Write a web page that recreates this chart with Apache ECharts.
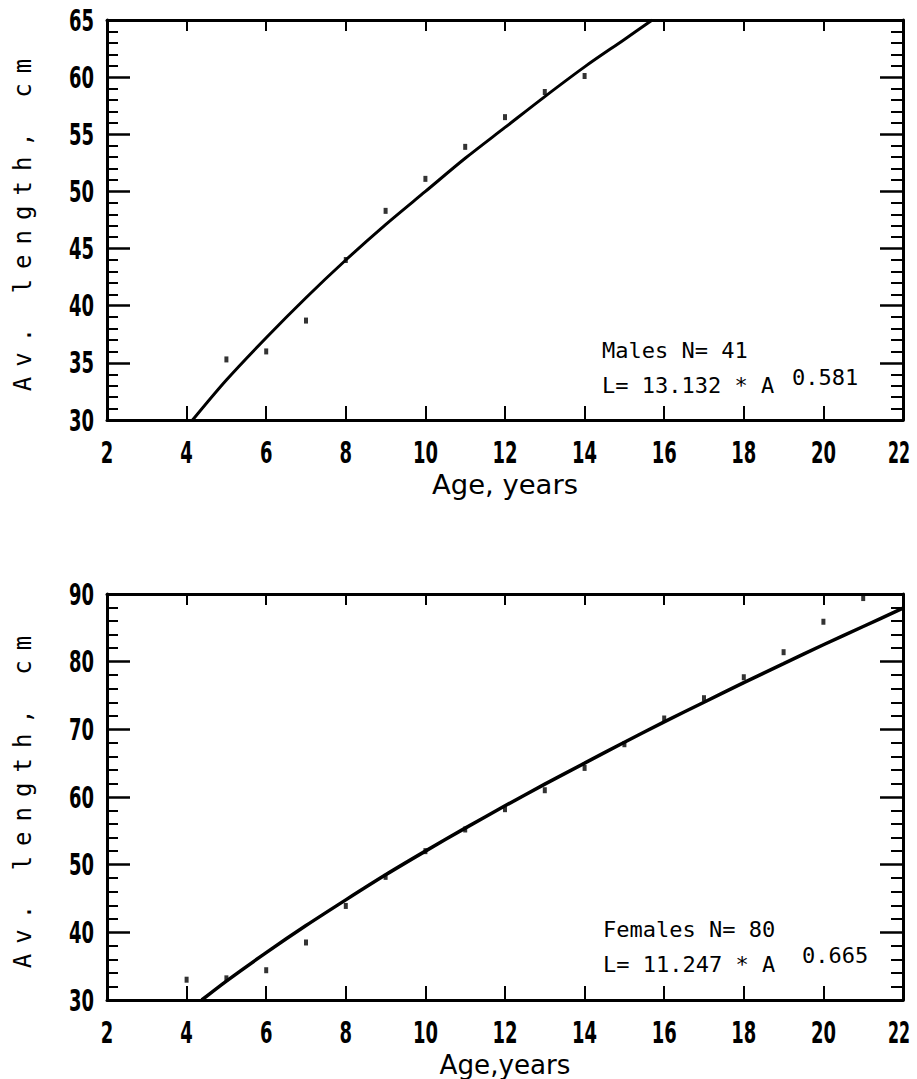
<!DOCTYPE html>
<html><head><meta charset="utf-8">
<script src="https://cdn.jsdelivr.net/npm/echarts@6/dist/echarts.min.js"></script>
<style>html,body{margin:0;padding:0;background:#fff}#c{width:917px;height:1079px}</style>
</head><body><div id="c"></div>
<script>
// Males (top panel)
const maleAges = [5, 6, 7, 8, 9, 10, 11, 12, 13, 14];
const maleLengths = [35.3, 36.0, 38.7, 44.0, 48.3, 51.1, 53.9, 56.5, 58.7, 60.1];
const maleCurveAges = [4.15, 5, 6, 7, 8, 9, 10, 11, 12, 13, 14, 15, 15.7];
const maleCurveLengths = [30, 33.5, 37.2, 40.7, 44.0, 47.1, 50.0, 52.9, 55.6, 58.3, 60.9, 63.3, 65];
// Females (bottom panel)
const femaleAges = [4, 5, 6, 7, 8, 9, 10, 11, 12, 13, 14, 15, 16, 17, 18, 19, 20, 21];
const femaleLengths = [33.0, 33.2, 34.4, 38.5, 43.9, 48.2, 52.0, 55.2, 58.2, 61.0, 64.3, 67.8, 71.6, 74.6, 77.7, 81.4, 85.9, 89.4];
const femaleCurveAges = [4.38, 5, 6, 7, 8, 9, 10, 11, 12, 13, 14, 15, 16, 17, 18, 19, 20, 21, 22];
const femaleCurveLengths = [30, 32.8, 37.0, 41.0, 44.8, 48.5, 52.0, 55.4, 58.7, 61.9, 65.0, 68.1, 71.1, 74.0, 76.9, 79.7, 82.5, 85.2, 87.9];
// Axis ranges / labels
const ageRange = [2, 22, 2];
const maleLenRange = [30, 65, 5];
const femaleLenRange = [30, 90, 10];
const yTitle = 'Av. length, cm';
const xTitleTop = 'Age, years';
const xTitleBottom = 'Age,years';
const maleNote = 'Males N= 41';
const maleEq = 'L= 13.132 * A';
const maleExp = '0.581';
const femaleNote = 'Females N= 80';
const femaleEq = 'L= 11.247 * A';
const femaleExp = '0.665';

const pair = (a, b) => a.map((v, i) => [v, b[i]]);
const numFont = "'DejaVu Sans', sans-serif";
const monoFont = "'DejaVu Sans Mono', monospace";
const black = '#000';

function xAxes(grid, title) {
  return [
    { type: 'value', gridIndex: grid, position: 'bottom', min: ageRange[0], max: ageRange[1], interval: ageRange[2],
      axisLine: { lineStyle: { color: black, width: 3 } },
      axisTick: { inside: true, length: 14, lineStyle: { color: black, width: 2 } },
      axisLabel: { color: black, fontSize: 30, fontWeight: 'bold', fontFamily: numFont, margin: 17,
                   alignMaxLabel: 'right' },
      splitLine: { show: false },
      name: title, nameLocation: 'middle', nameGap: 52,
      nameTextStyle: { color: black, fontSize: 26, fontFamily: numFont } },
    { type: 'value', gridIndex: grid, position: 'top', min: ageRange[0], max: ageRange[1], interval: ageRange[2],
      axisLine: { lineStyle: { color: black, width: 3 } },
      axisTick: { inside: true, length: 11, lineStyle: { color: black, width: 2 } },
      axisLabel: { show: false }, splitLine: { show: false } }
  ];
}
function yAxes(grid, r) {
  return [
    { type: 'value', gridIndex: grid, position: 'left', min: r[0], max: r[1], interval: r[2],
      axisLine: { lineStyle: { color: black, width: 3 } },
      axisTick: { inside: true, length: 23, lineStyle: { color: black, width: 2.5 } },
      minorTick: { show: true, splitNumber: 5, length: 11, lineStyle: { color: black, width: 2 } },
      axisLabel: { color: black, fontSize: 30, fontWeight: 'bold', fontFamily: numFont, margin: 13 },
      splitLine: { show: false }, minorSplitLine: { show: false },
      name: yTitle, nameLocation: 'middle', nameRotate: 90, nameGap: 72,
      nameTextStyle: { color: black, fontSize: 24, fontFamily: monoFont } },
    { type: 'value', gridIndex: grid, position: 'right', min: r[0], max: r[1], interval: r[2],
      axisLine: { lineStyle: { color: black, width: 3 } },
      axisTick: { inside: true, length: 23, lineStyle: { color: black, width: 2.5 } },
      minorTick: { show: true, splitNumber: 5, length: 12, lineStyle: { color: black, width: 2 } },
      axisLabel: { show: false }, splitLine: { show: false } }
  ];
}
function txt(x, y, s) {
  return { type: 'text', left: x, top: y, style: { text: s, font: '22px ' + monoFont, fill: black } };
}

const chart = echarts.init(document.getElementById('c'), null, { renderer: 'svg' });
chart.setOption({
  backgroundColor: '#fff',
  animation: false,
  grid: [
    { left: 107, right: 14, top: 20, height: 400 },
    { left: 107, right: 14, top: 594, height: 407 }
  ],
  xAxis: [...xAxes(0, xTitleTop), ...xAxes(1, xTitleBottom)],
  yAxis: [...yAxes(0, maleLenRange), ...yAxes(1, femaleLenRange)],
  series: [
    { type: 'line', xAxisIndex: 0, yAxisIndex: 0, data: pair(maleCurveAges, maleCurveLengths), smooth: 0.3,
      showSymbol: false, lineStyle: { color: black, width: 3 } },
    { type: 'scatter', xAxisIndex: 0, yAxisIndex: 0, data: pair(maleAges, maleLengths), symbol: 'rect',
      symbolSize: [4, 6], itemStyle: { color: black } },
    { type: 'line', xAxisIndex: 2, yAxisIndex: 2, data: pair(femaleCurveAges, femaleCurveLengths), smooth: 0.3,
      showSymbol: false, lineStyle: { color: black, width: 3.5 } },
    { type: 'scatter', xAxisIndex: 2, yAxisIndex: 2, data: pair(femaleAges, femaleLengths), symbol: 'rect',
      symbolSize: [4, 6], itemStyle: { color: black } }
  ],
  graphic: [
    txt(602, 339, maleNote), txt(602, 374, maleEq), txt(792, 366, maleExp),
    txt(603, 918, femaleNote), txt(603, 953, femaleEq), txt(802, 944, femaleExp)
  ]
});
// The original uses a narrow plotter font and a widely spaced monospaced axis title:
// emulate with SVG text condensing / letter spacing.
document.querySelectorAll('#c text').forEach(t => {
  const s = t.textContent;
  if (s === yTitle) {
    t.style.letterSpacing = '10px';
  } else if (/^\d+$/.test(s)) {
    const isMax = s === String(ageRange[1]);
    const w = isMax ? 11 : 12.5;
    const len = s.length * w;
    t.setAttribute('textLength', String(len));
    t.setAttribute('lengthAdjust', 'spacingAndGlyphs');
    if (isMax) {
      // right-aligned max label: start-anchor the condensed text just over its tick
      const x0 = parseFloat(t.getAttribute('x') || '0');
      t.setAttribute('text-anchor', 'start');
      t.style.textAnchor = 'start';
      t.setAttribute('x', String(x0 - len + 7));
    }
  } else if (s === xTitleTop) {
    t.setAttribute('textLength', '146');
    t.setAttribute('lengthAdjust', 'spacingAndGlyphs');
  } else if (s === xTitleBottom) {
    t.setAttribute('textLength', '131');
    t.setAttribute('lengthAdjust', 'spacingAndGlyphs');
  }
});
</script>
</body></html>
